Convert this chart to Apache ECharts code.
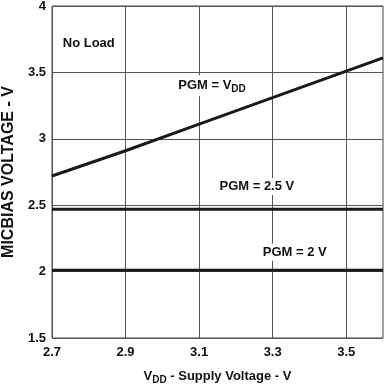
<!DOCTYPE html>
<html>
<head>
<meta charset="utf-8">
<script src="https://cdn.jsdelivr.net/npm/echarts@6/dist/echarts.min.js"></script>
<style>
html,body{margin:0;padding:0;background:#fff;}
#c{width:386px;height:391px;}
</style>
</head>
<body>
<div id="c"></div>
<script>
const xTicks = [2.7, 2.9, 3.1, 3.3, 3.5];
const yTicks = [1.5, 2, 2.5, 3, 3.5, 4];
const xVdd = [2.7, 2.9, 3.1, 3.3, 3.5, 3.6];
const yVdd = [2.72, 2.91, 3.11, 3.31, 3.51, 3.61];
const xFlat = [2.7, 3.6];
const y25 = [2.47, 2.47];
const y2 = [2.01, 2.01];
const notes = [
  {text: '{t|No Load}', x: 2.80, y: 3.72},
  {text: '{t|PGM = V}{s|DD}', x: 3.135, y: 3.40},
  {text: '{t|PGM = 2.5 V}', x: 3.257, y: 2.64},
  {text: '{t|PGM = 2 V}', x: 3.36, y: 2.145}
];

const font = '"Liberation Sans", Arial, sans-serif';
const ink = '#111';
const chart = echarts.init(document.getElementById('c'), null, {renderer: 'canvas'});
const zip = (xs, ys) => xs.map((x, i) => [x, ys[i]]);
const lineStyle = {color: '#1a1a1a', width: 3};
const rich = {
  t: {fontFamily: font, fontWeight: 'bold', fontSize: 13, color: ink},
  s: {fontFamily: font, fontWeight: 'bold', fontSize: 10, color: ink, padding: [7, 0, 0, 0]}
};

chart.setOption({
  animation: false,
  backgroundColor: '#fff',
  grid: {left: 52, right: 3, top: 6, bottom: 53, show: true, borderColor: '#444', borderWidth: 1,
         containLabel: false, outerBoundsMode: 'none'},
  xAxis: {
    type: 'value', min: 2.7, max: 3.6,
    name: '{t|V}{s|DD}{t| - Supply Voltage - V}',
    nameLocation: 'middle', nameGap: 30,
    nameTextStyle: {rich: rich},
    axisLine: {show: false},
    axisTick: {show: false, customValues: xTicks},
    axisLabel: {customValues: xTicks, hideOverlap: false, margin: 8, fontFamily: font, fontWeight: 'bold', fontSize: 13, color: ink, formatter: v => v.toFixed(1)},
    splitLine: {show: true, lineStyle: {color: '#555', width: 1}}
  },
  yAxis: {
    type: 'value', min: 1.5, max: 4, interval: 0.5,
    name: 'MICBIAS VOLTAGE - V', nameLocation: 'middle', nameGap: 32,
    nameTextStyle: {fontFamily: font, fontWeight: 'bold', fontSize: 16, color: ink},
    axisLine: {show: false},
    axisTick: {show: false},
    axisLabel: {margin: 6, hideOverlap: false, fontFamily: font, fontWeight: 'bold', fontSize: 13, color: ink, formatter: v => String(v)},
    splitLine: {show: true, lineStyle: {color: '#555', width: 1}}
  },
  series: [
    {type: 'line', data: zip(xVdd, yVdd), symbol: 'none', lineStyle: lineStyle, z: 3},
    {type: 'line', data: zip(xFlat, y25), symbol: 'none', lineStyle: lineStyle, z: 3},
    {type: 'line', data: zip(xFlat, y2), symbol: 'none', lineStyle: lineStyle, z: 3},
    {type: 'scatter', symbolSize: 0, z: 5, itemStyle: {opacity: 1},
     data: notes.map(n => ({value: [n.x, n.y], text: n.text})),
     label: {show: true, position: 'inside', opacity: 1, formatter: p => p.data.text,
       backgroundColor: '#fff', padding: [2, 3], rich: rich}
    }
  ]
});
</script>
</body>
</html>
